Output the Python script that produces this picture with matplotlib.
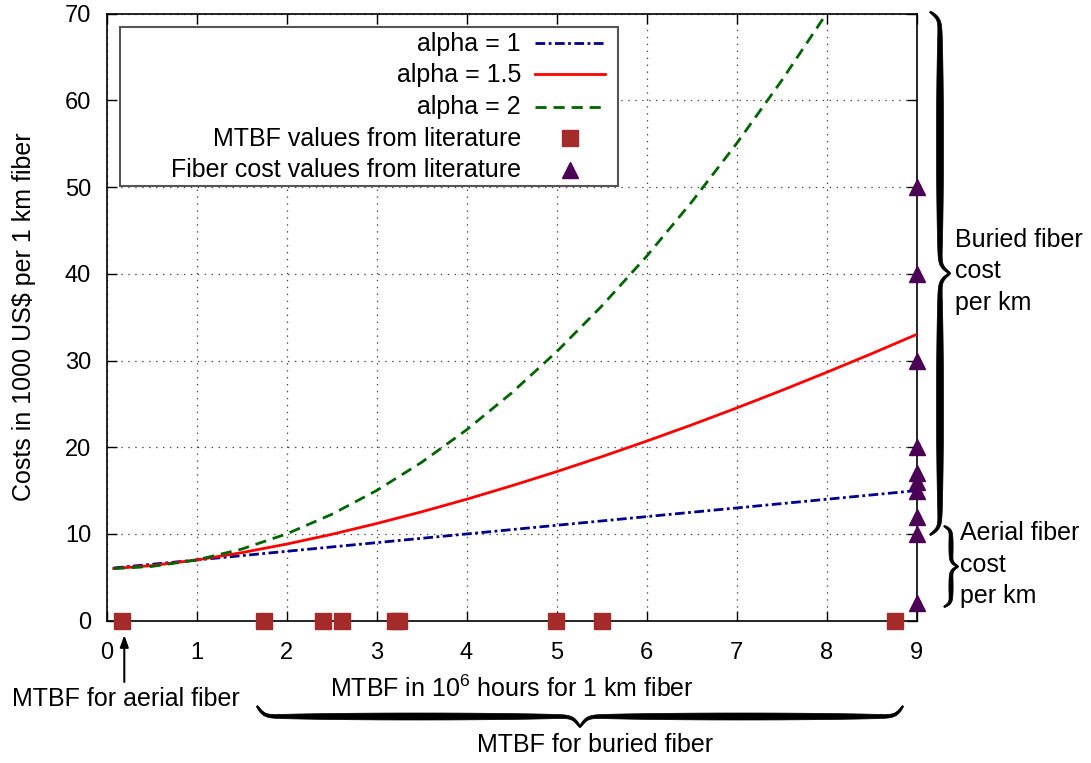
import numpy as np
import matplotlib
matplotlib.use("Agg")
import matplotlib.pyplot as plt
from matplotlib.transforms import Affine2D
from matplotlib.patches import Polygon, Rectangle
from matplotlib.lines import Line2D

plt.rcParams['font.family'] = ['Liberation Sans', 'DejaVu Sans']
plt.rcParams['mathtext.fontset'] = 'custom'
plt.rcParams['mathtext.rm'] = 'Liberation Sans'
plt.rcParams['lines.scale_dashes'] = False

# ---------------- data ----------------
x_curve = [0.08, 0.5, 1.0, 1.5, 2.0, 2.5, 3.0, 3.5, 4.0, 4.5, 5.0, 5.5,
           6.0, 6.5, 7.0, 7.5, 8.0, 8.5, 9.0]
cost_alpha1 = [6.08, 6.5, 7.0, 7.5, 8.0, 8.5, 9.0, 9.5, 10.0, 10.5, 11.0, 11.5,
               12.0, 12.5, 13.0, 13.5, 14.0, 14.5, 15.0]
cost_alpha15 = [6.02, 6.35, 7.0, 7.84, 8.83, 9.95, 11.2, 12.55, 14.0, 15.55, 17.18,
                18.9, 20.7, 22.57, 24.52, 26.54, 28.63, 30.78, 33.0]
x_alpha2 = [0.08, 0.5, 1.0, 1.5, 2.0, 2.5, 3.0, 3.5, 4.0, 4.5, 5.0, 5.5,
            6.0, 6.5, 7.0, 7.5, 8.0]
cost_alpha2 = [6.01, 6.25, 7.0, 8.25, 10.0, 12.25, 15.0, 18.25, 22.0, 26.25, 31.0,
               36.25, 42.0, 48.25, 55.0, 62.25, 70.0]

mtbf_lit = [0.17, 1.75, 2.41, 2.62, 3.2, 3.25, 4.99, 5.5, 8.76]
mtbf_lit_y = [0] * len(mtbf_lit)
fiber_cost_lit = [2, 10, 12, 15, 16, 17, 20, 30, 40, 50]
fiber_cost_x = [9] * len(fiber_cost_lit)

labels = ["alpha = 1", "alpha = 1.5", "alpha = 2",
          "MTBF values from literature", "Fiber cost values from literature"]
x_ticks = list(range(0, 10))
y_ticks = list(range(0, 71, 10))

# ---------------- styles ----------------
C_BLUE = '#00008B'
C_RED = '#FF0000'
C_GREEN = '#006400'
C_SQ = '#A52A2A'
C_TRI = '#4B0055'
FS = 18
TFS = 17

W, H = 1091, 763
fig = plt.figure(figsize=(W / 100, H / 100), dpi=100)
ax = fig.add_axes([106.5 / W, 1 - 620.7 / H, 810 / W, (620.7 - 13.6) / H])
P = Affine2D().scale(1 / W, -1 / H).translate(0, 1) + fig.transFigure

st1 = dict(color=C_BLUE, lw=2.0, dashes=(7, 2.5, 2, 2.5))
st15 = dict(color=C_RED, lw=2.0, linestyle='-')
st2 = dict(color=C_GREEN, lw=2.0, dashes=(8, 5))
sq = dict(marker='s', color=C_SQ, markersize=12, linestyle='none')
tri = dict(marker='^', color=C_TRI, markersize=11, linestyle='none')

ax.plot(x_curve, cost_alpha1, **st1, zorder=3)
ax.plot(x_curve, cost_alpha15, **st15, zorder=3)
ax.plot(x_alpha2, cost_alpha2, **st2, zorder=3)
ax.plot(mtbf_lit, mtbf_lit_y, **sq, clip_on=False, zorder=4)
ax.plot(fiber_cost_x, fiber_cost_lit, **tri, clip_on=False, zorder=4)

ax.set_xlim(0, 9)
ax.set_ylim(0, 70)
ax.set_xticks(x_ticks)
ax.set_yticks(y_ticks)
ax.grid(True, color='#444444', lw=0.9, dashes=(1, 4))
ax.tick_params(direction='in', length=7, width=1, top=True, right=True,
               labelsize=TFS)
ax.tick_params(axis='x', pad=15)
ax.tick_params(axis='y', pad=11)
for s in ax.spines.values():
    s.set_linewidth(1.2)

# ---------------- legend (drawn manually, right-aligned text) ----------------
fig.add_artist(Rectangle((120, 27), 498, 159, transform=P, facecolor='white',
                         edgecolor='#555555', lw=1.5, zorder=5))
row_base = [50.7, 82.3, 114.0, 145.7, 177.3]
row_mid = [42.7, 74.3, 106.7, 138.3, 170.0]
for i, lab in enumerate(labels):
    fig.text(521, row_base[i], lab, transform=P, ha='right', va='baseline',
             fontsize=FS, zorder=6)
for i, st in enumerate([st1, st15, st2]):
    fig.add_artist(Line2D([535, 605], [row_mid[i], row_mid[i]], transform=P,
                          zorder=6, **st))
fig.add_artist(Line2D([570], [row_mid[3]], transform=P, zorder=6, **sq))
fig.add_artist(Line2D([570], [row_mid[4]], transform=P, zorder=6, **tri))

# ---------------- axis labels ----------------
fig.text(511.5, 696.7, r'MTBF in $\mathregular{10^6}$ hours for 1 km fiber',
         transform=P, ha='center', va='baseline', fontsize=FS)
fig.text(24, 317, 'Costs in 1000 US$ per 1 km fiber', transform=P,
         ha='center', va='center', rotation=90, fontsize=FS)


# ---------------- braces ----------------
def brace(p0, p1, bulge, depth, wmax, wmin, beta):
    p0 = np.asarray(p0, float)
    p1 = np.asarray(p1, float)
    L = np.hypot(*(p1 - p0))
    t_hat = (p1 - p0) / L
    n_hat = np.asarray(bulge, float)
    half = L / 2
    s = np.linspace(0, half, 300)
    f = 1 / (1 + np.exp(-beta * s)) + 1 / (1 + np.exp(-beta * (s - half)))
    v = depth * (f - f[0]) / (f[-1] - f[0])
    hw = wmin + (wmax - wmin) * np.sin(np.pi * s / half) ** 0.5
    u = np.concatenate([s, L - s[::-1]])
    v = np.concatenate([v, v[::-1]])
    hw = np.concatenate([hw, hw[::-1]]) / 2
    du = np.gradient(u)
    dv = np.gradient(v)
    nrm = np.hypot(du, dv)
    nu, nv = -dv / nrm, du / nrm
    uo, vo = u + nu * hw, v + nv * hw
    ui, vi = u - nu * hw, v - nv * hw
    uu = np.concatenate([uo, ui[::-1]])
    vv = np.concatenate([vo, vi[::-1]])
    pts = p0[None, :] + uu[:, None] * t_hat[None, :] + vv[:, None] * n_hat[None, :]
    fig.add_artist(Polygon(pts, closed=True, transform=P, facecolor='black',
                           edgecolor='black', lw=0.5, zorder=6))


brace((930, 11.7), (930, 535), (1, 0), 20, 7.0, 1.5, 0.28)
brace((944, 526), (944, 607), (1, 0), 14, 4.2, 1.2, 0.5)
brace((257, 706), (903, 706), (0, 1), 21, 7.0, 1.5, 0.28)

for txt, yb in zip(["Buried fiber", "cost", "per km"], [246.7, 278.2, 309.7]):
    fig.text(955, yb, txt, transform=P, ha='left', va='baseline', fontsize=FS)
for txt, yb in zip(["Aerial fiber", "cost", "per km"], [540, 571.7, 603.3]):
    fig.text(960, yb, txt, transform=P, ha='left', va='baseline', fontsize=FS)

fig.text(595, 751.7, 'MTBF for buried fiber', transform=P, ha='center',
         va='baseline', fontsize=FS)
fig.text(126, 706, 'MTBF for aerial fiber', transform=P, ha='center',
         va='baseline', fontsize=FS)
ax.annotate('', xy=(124.3, 635), xycoords=P, xytext=(124.3, 682), textcoords=P,
            arrowprops=dict(arrowstyle='-|>,head_length=0.7,head_width=0.25',
                            color='black', lw=1.5, shrinkA=0, shrinkB=0),
            annotation_clip=False)

fig.savefig('out.png', dpi=100)
